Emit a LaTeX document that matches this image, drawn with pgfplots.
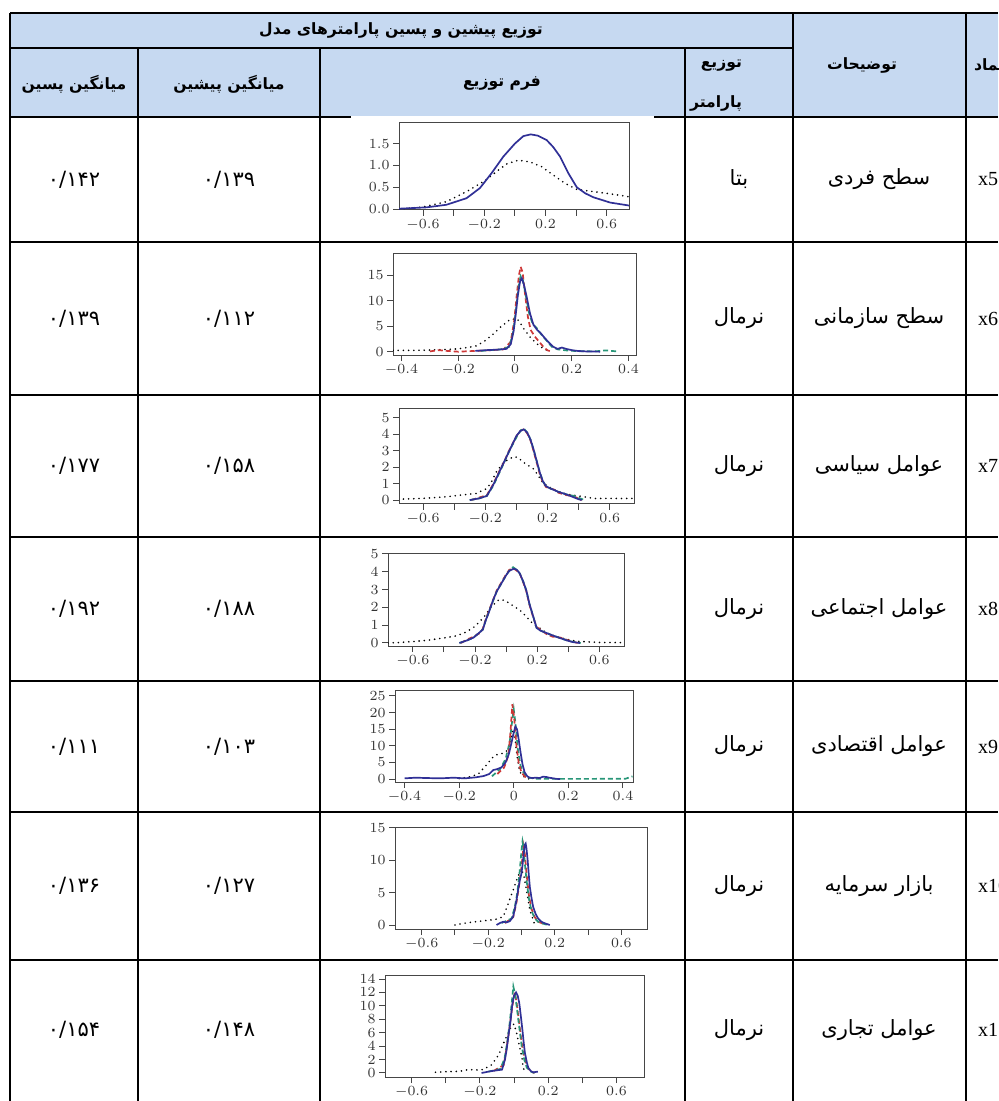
\documentclass[border=0pt]{standalone}
\usepackage{pgfplots}
\pgfplotsset{compat=1.18}
\usepackage{fontspec}
\setmainfont{Liberation Serif}
\TeXXeTstate=1
\newfontfamily\fa[Script=Arabic,BoldFont={DejaVu Sans Bold}]{DejaVu Sans}
\definecolor{hdr}{RGB}{198,217,241}
\definecolor{cblue}{RGB}{48,48,150}
\definecolor{cred}{RGB}{205,55,55}
\definecolor{cgreen}{RGB}{40,150,120}
\definecolor{frm}{RGB}{70,70,70}
\pgfplotsset{
  rplot/.style={scale only axis, anchor=north west,
    axis line style={frm, line width=0.5pt},
    tick align=outside, xtick pos=bottom, ytick pos=left,
    major tick length=3pt, tick style={frm, line width=0.5pt},
    ticklabel style={font=\fontsize{6.8}{7}\selectfont, text=black!80, inner sep=1.5pt},
    clip=true},
  alt7/.style={xtick={-0.6,-0.4,-0.2,0,0.2,0.4,0.6},
    xticklabels={$-0.6$,{},$-0.2$,{},$0.2$,{},$0.6$}},
  pb/.style={cblue, line width=0.85pt, no marks},
  pr/.style={cred, line width=0.85pt, dash pattern=on 2.5pt off 1.5pt, no marks},
  pg/.style={cgreen, line width=0.85pt, dash pattern=on 2.5pt off 1.5pt, no marks},
  pd/.style={black, line width=0.9pt, dash pattern=on 0pt off 2.6pt, line cap=round, no marks},
}
\tikzset{bt/.style={font=\fa\fontsize{10.5}{12}\selectfont},
  ht/.style={font=\fa\bfseries\fontsize{7.8}{10}\selectfont},
  st/.style={font=\fontsize{10}{12}\selectfont, anchor=west}}
\begin{document}
\begin{tikzpicture}
\begin{scope}[x=0.5pt,y=-0.5pt]
\clip (0,0) rectangle (998,1101);
\useasboundingbox (0,0) rectangle (998,1101);
\fill[hdr] (10,13) rectangle (998,117);
\begin{scope}[line width=1pt]
\draw (10,13) -- (998,13);
\draw (10,48) -- (793,48);
\draw (10,117) -- (998,117);
\foreach \yy in {242,395,537,681,812,960} {\draw (10,\yy) -- (998,\yy);}
\draw (10,13) -- (10,1105);
\draw (138,48) -- (138,1105);
\draw (320,48) -- (320,1105);
\draw (685,48) -- (685,1105);
\draw (793,13) -- (793,1105);
\draw (966,13) -- (966,1105);
\end{scope}
\fill[white] (351,116.5) rectangle (654,121);
% header text
\node[ht] at (401,30) {\beginR توزیع پیشین و پسین پارامترهای مدل\endR};
\node[ht] at (74,84) {\beginR میانگین پسین\endR};
\node[ht] at (229,84) {\beginR میانگین پیشین\endR};
\node[ht] at (502,84) {\beginR فرم توزیع\endR};
\node[ht, anchor=east] at (749,66) {\beginR توزیع\endR};
\node[ht, anchor=east] at (749,103) {\beginR پارامتر\endR};
\node[ht] at (862,65) {\beginR توضیحات\endR};
\node[ht, anchor=west] at (967,65) {\beginR نماد\endR};
% rows
\node[bt] at (74,179.5) {۰/۱۴۲};
\node[bt] at (229,179.5) {۰/۱۳۹};
\node[bt] at (739,179.5) {\beginR بتا\endR};
\node[bt] at (879,179.5) {\beginR سطح فردی\endR};
\node[st] at (971,179.5) {x5};
\node[bt] at (74,318.5) {۰/۱۳۹};
\node[bt] at (229,318.5) {۰/۱۱۲};
\node[bt] at (739,318.5) {\beginR نرمال\endR};
\node[bt] at (879,318.5) {\beginR سطح سازمانی\endR};
\node[st] at (971,318.5) {x6};
\node[bt] at (74,466) {۰/۱۷۷};
\node[bt] at (229,466) {۰/۱۵۸};
\node[bt] at (739,466) {\beginR نرمال\endR};
\node[bt] at (879,466) {\beginR عوامل سیاسی\endR};
\node[st] at (971,466) {x7};
\node[bt] at (74,609) {۰/۱۹۲};
\node[bt] at (229,609) {۰/۱۸۸};
\node[bt] at (739,609) {\beginR نرمال\endR};
\node[bt] at (879,609) {\beginR عوامل اجتماعی\endR};
\node[st] at (971,609) {x8};
\node[bt] at (74,746.5) {۰/۱۱۱};
\node[bt] at (229,746.5) {۰/۱۰۳};
\node[bt] at (739,746.5) {\beginR نرمال\endR};
\node[bt] at (879,746.5) {\beginR عوامل اقتصادی\endR};
\node[st] at (971,746.5) {x9};
\node[bt] at (74,886) {۰/۱۳۶};
\node[bt] at (229,886) {۰/۱۲۷};
\node[bt] at (739,886) {\beginR نرمال\endR};
\node[bt] at (879,886) {\beginR بازار سرمایه\endR};
\node[st] at (971,886) {x10};
\node[bt] at (74,1030) {۰/۱۵۴};
\node[bt] at (229,1030) {۰/۱۴۸};
\node[bt] at (739,1030) {\beginR نرمال\endR};
\node[bt] at (879,1030) {\beginR عوامل تجاری\endR};
\node[st] at (971,1030) {x11};
\coordinate (a5) at (399,123);
\coordinate (a6) at (393,253);
\coordinate (a7) at (399,408);
\coordinate (a8) at (388,553);
\coordinate (a9) at (395,690);
\coordinate (a10) at (395,827);
\coordinate (a11) at (385,975);
\end{scope}
% ---------- x5
\begin{axis}[rplot, at={(a5)}, width=115pt, height=43.5pt,
  xmin=-0.757, xmax=0.745, ymin=-0.02, ymax=1.97, alt7,
  ytick={0,0.5,1,1.5},
  yticklabel style={/pgf/number format/.cd,fixed,fixed zerofill,precision=1}]
\addplot[pd] coordinates {(-0.757,0) (-0.6,0.05) (-0.447,0.17) (-0.316,0.40) (-0.196,0.65) (-0.12,0.86) (-0.055,1.03) (0.022,1.12) (0.098,1.08) (0.175,0.97) (0.25,0.78) (0.327,0.59) (0.404,0.45) (0.513,0.40) (0.622,0.35) (0.749,0.28)};
\addplot[pb] coordinates {(-0.757,0.01) (-0.578,0.04) (-0.447,0.10) (-0.316,0.25) (-0.229,0.48) (-0.153,0.82) (-0.076,1.2) (0.0,1.5) (0.055,1.67) (0.103,1.71) (0.15,1.68) (0.207,1.58) (0.25,1.42) (0.295,1.20) (0.349,0.82) (0.404,0.50) (0.46,0.36) (0.513,0.27) (0.622,0.15) (0.749,0.08)};
\end{axis}
% ---------- x6
\begin{axis}[rplot, at={(a6)}, width=122pt, height=51pt,
  xmin=-0.43, xmax=0.43, ymin=-0.6, ymax=19.3,
  xtick={-0.4,-0.2,0,0.2,0.4}, ytick={0,5,10,15}]
\addplot[pd] coordinates {(-0.43,0.3) (-0.35,0.3) (-0.28,0.4) (-0.2,0.6) (-0.14,1.1) (-0.11,2.0) (-0.08,3.3) (-0.05,4.9) (-0.02,6.2) (0.005,6.5) (0.015,6.0) (0.03,4.6) (0.053,2.9) (0.077,1.6) (0.1,0.65) (0.12,0.1)};
\addplot[pr] coordinates {(-0.3,0.1) (-0.27,0.35) (-0.24,0.2) (-0.2,0.05) (-0.16,0.15) (-0.1,0.3) (-0.04,0.5) (-0.015,2) (-0.003,6) (0.006,11) (0.014,15) (0.02,16.6) (0.027,15.5) (0.035,11.5) (0.045,7) (0.055,4.3) (0.07,3) (0.085,2) (0.1,1.0) (0.115,0.3) (0.13,0.05)};
\addplot[pg] coordinates {(-0.12,0.2) (-0.05,0.5) (-0.02,1) (-0.006,4) (0.004,8.5) (0.012,12.5) (0.02,14.8) (0.028,14) (0.038,11) (0.05,7.5) (0.062,5.5) (0.076,4.7) (0.09,3.6) (0.11,2.3) (0.13,1.0) (0.15,0.5) (0.18,0.3) (0.22,0.15) (0.28,0.1) (0.32,0.3) (0.36,0.1)};
\addplot[pb] coordinates {(-0.14,0.2) (-0.1,0.35) (-0.06,0.45) (-0.03,0.6) (-0.015,1.5) (-0.005,4) (0.003,7.5) (0.01,11) (0.018,13.8) (0.024,14.4) (0.032,13) (0.041,10.8) (0.053,7.5) (0.065,5.3) (0.078,4.3) (0.09,3.7) (0.105,2.7) (0.12,1.8) (0.135,1.0) (0.15,0.6) (0.165,0.85) (0.18,0.6) (0.2,0.35) (0.22,0.2) (0.25,0.1) (0.3,0.05)};
\end{axis}
% ---------- x7
\begin{axis}[rplot, at={(a7)}, width=118pt, height=48pt,
  xmin=-0.755, xmax=0.763, ymin=-0.24, ymax=5.6, alt7, ytick={0,1,2,3,4,5}]
\addplot[pd] coordinates {(-0.76,0.05) (-0.6,0.1) (-0.45,0.2) (-0.36,0.3) (-0.26,0.4) (-0.19,0.7) (-0.16,1.1) (-0.13,1.7) (-0.09,2.2) (-0.05,2.5) (-0.01,2.65) (0.02,2.5) (0.06,2.2) (0.11,1.9) (0.14,1.5) (0.17,1.05) (0.21,0.8) (0.26,0.55) (0.33,0.35) (0.4,0.25) (0.5,0.1) (0.76,0.1)};
\addplot[pr] coordinates {(-0.29,0) (-0.24,0.15) (-0.19,0.3) (-0.15,0.95) (-0.11,1.75) (-0.08,2.3) (-0.05,2.95) (-0.02,3.5) (0.005,3.95) (0.03,4.25) (0.05,4.3) (0.07,4.05) (0.09,3.65) (0.11,3.0) (0.13,2.3) (0.15,1.6) (0.17,1.1) (0.19,0.8) (0.215,0.7) (0.24,0.65) (0.27,0.45) (0.32,0.3) (0.36,0.25) (0.4,0.1) (0.42,0)};
\addplot[pg] coordinates {(-0.3,0) (-0.24,0.1) (-0.19,0.25) (-0.15,0.85) (-0.11,1.65) (-0.08,2.25) (-0.05,2.9) (-0.02,3.45) (0.005,3.9) (0.03,4.25) (0.048,4.35) (0.07,4.1) (0.09,3.7) (0.11,3.1) (0.13,2.4) (0.15,1.7) (0.17,1.15) (0.19,0.85) (0.215,0.72) (0.24,0.62) (0.27,0.5) (0.32,0.35) (0.37,0.25) (0.41,0.1) (0.44,0)};
\addplot[pb] coordinates {(-0.3,0) (-0.24,0.1) (-0.19,0.25) (-0.15,0.9) (-0.11,1.7) (-0.085,2.2) (-0.05,2.9) (-0.03,3.3) (0.0,3.9) (0.025,4.2) (0.048,4.3) (0.07,4.1) (0.09,3.7) (0.11,3.1) (0.13,2.4) (0.15,1.7) (0.17,1.15) (0.19,0.85) (0.215,0.72) (0.24,0.62) (0.27,0.5) (0.32,0.35) (0.36,0.2) (0.4,0.05) (0.42,0)};
\end{axis}
% ---------- x8
\begin{axis}[rplot, at={(a8)}, width=118.5pt, height=46.5pt,
  xmin=-0.76, xmax=0.765, ymin=-0.17, ymax=5.05, alt7, ytick={0,1,2,3,4,5}]
\addplot[pd] coordinates {(-0.76,0) (-0.7,0.02) (-0.6,0.08) (-0.51,0.15) (-0.4,0.28) (-0.32,0.4) (-0.26,0.6) (-0.2,0.93) (-0.14,1.48) (-0.095,2.04) (-0.05,2.4) (-0.03,2.44) (0.0,2.35) (0.024,2.2) (0.088,1.85) (0.13,1.48) (0.17,1.1) (0.217,0.83) (0.26,0.56) (0.35,0.28) (0.45,0.1) (0.6,0.03) (0.765,0.02)};
\addplot[pr] coordinates {(-0.29,0) (-0.25,0.2) (-0.21,0.35) (-0.17,0.55) (-0.15,0.8) (-0.13,1.35) (-0.1,2.05) (-0.06,2.95) (-0.03,3.4) (0.0,3.85) (0.02,4.1) (0.045,4.2) (0.07,4.05) (0.09,3.85) (0.11,3.4) (0.13,2.9) (0.15,2.15) (0.174,1.45) (0.196,0.9) (0.22,0.75) (0.26,0.5) (0.3,0.35) (0.35,0.3) (0.4,0.15) (0.46,0)};
\addplot[pg] coordinates {(-0.3,0) (-0.25,0.15) (-0.21,0.3) (-0.17,0.6) (-0.15,0.75) (-0.13,1.3) (-0.1,2.0) (-0.06,2.9) (-0.03,3.35) (0.0,3.8) (0.02,4.05) (0.045,4.25) (0.07,4.1) (0.088,3.9) (0.11,3.45) (0.13,2.95) (0.15,2.2) (0.174,1.5) (0.196,0.85) (0.22,0.7) (0.26,0.56) (0.3,0.42) (0.346,0.28) (0.4,0.12) (0.44,0.05) (0.48,0)};
\addplot[pb] coordinates {(-0.3,0) (-0.25,0.15) (-0.21,0.3) (-0.17,0.6) (-0.15,0.75) (-0.13,1.3) (-0.116,1.6) (-0.1,2.0) (-0.084,2.4) (-0.06,2.9) (-0.03,3.35) (0.0,3.8) (0.02,4.05) (0.05,4.17) (0.07,4.1) (0.088,3.9) (0.11,3.45) (0.13,2.95) (0.15,2.2) (0.174,1.5) (0.196,0.85) (0.22,0.7) (0.26,0.56) (0.3,0.42) (0.346,0.28) (0.4,0.12) (0.43,0.05) (0.475,0)};
\end{axis}
% ---------- x9
\begin{axis}[rplot, at={(a9)}, width=119pt, height=46pt,
  xmin=-0.435, xmax=0.437, ymin=-0.9, ymax=26.8,
  xtick={-0.4,-0.2,0,0.2,0.4}, ytick={0,5,10,15,20,25}]
\addplot[pd] coordinates {(-0.2,0.1) (-0.16,0.7) (-0.13,1.5) (-0.1,4.2) (-0.08,6.3) (-0.063,7.3) (-0.045,7.6) (-0.025,8.5) (-0.012,11) (-0.005,14) (0.0,15) (0.005,12) (0.012,7) (0.022,2.2) (0.035,0.8) (0.046,0.2) (0.06,0)};
\addplot[pg] coordinates {(-0.08,0.8) (-0.05,3) (-0.03,6) (-0.015,11) (-0.005,18) (0.0,21) (0.006,17) (0.015,9) (0.025,4) (0.035,2) (0.05,0.5) (0.08,0.1) (0.12,0.05) (0.2,0.05) (0.3,0.05) (0.41,0.1) (0.435,0.8)};
\addplot[pr] coordinates {(-0.06,1.5) (-0.035,3.5) (-0.02,7) (-0.012,14) (-0.005,22.5) (0.002,18) (0.01,10) (0.018,5) (0.028,2) (0.04,0.8) (0.05,0.2)};
\addplot[pb] coordinates {(-0.4,0.2) (-0.36,0.4) (-0.32,0.3) (-0.27,0.2) (-0.22,0.4) (-0.18,0.2) (-0.14,0.5) (-0.11,0.9) (-0.09,1.5) (-0.075,2.7) (-0.06,3.0) (-0.045,3.5) (-0.03,5) (-0.018,7.5) (-0.008,11) (0.0,14) (0.006,15.8) (0.012,15) (0.018,12) (0.025,8) (0.032,4.5) (0.04,2) (0.05,0.8) (0.058,0.4) (0.07,0.3) (0.08,0.4) (0.095,0.3) (0.107,0.7) (0.12,0.6) (0.13,0.4) (0.145,0.2) (0.156,0.05) (0.17,0)};
\end{axis}
% ---------- x10
\begin{axis}[rplot, at={(a10)}, width=126pt, height=51pt,
  xmin=-0.76, xmax=0.754, ymin=-0.62, ymax=15.15, alt7, ytick={0,5,10,15}]
\addplot[pd] coordinates {(-0.4,0) (-0.36,0.2) (-0.31,0.4) (-0.26,0.55) (-0.21,0.7) (-0.15,0.9) (-0.11,1.3) (-0.08,3.3) (-0.05,5.4) (-0.03,6.9) (-0.01,8.2) (0.0,8.7) (0.015,7.5) (0.03,5.4) (0.05,2.3) (0.07,0.8) (0.08,0)};
\addplot[pr] coordinates {(-0.1,0.3) (-0.05,1.2) (-0.03,3.5) (-0.015,6) (0.0,9) (0.012,12.2) (0.02,11) (0.03,8) (0.045,4.5) (0.06,2.5) (0.08,1.2) (0.1,0.5) (0.14,0.1)};
\addplot[pg] coordinates {(-0.12,0.3) (-0.06,1.0) (-0.04,2.8) (-0.025,5) (-0.012,8) (0.0,11.5) (0.006,12.9) (0.012,12) (0.02,9.5) (0.03,7) (0.045,4) (0.06,2.2) (0.08,1.0) (0.1,0.5) (0.13,0.2) (0.16,0)};
\addplot[pb] coordinates {(-0.15,0) (-0.13,0.3) (-0.11,0.5) (-0.09,0.4) (-0.07,0.6) (-0.05,1.3) (-0.04,2.5) (-0.03,3.85) (-0.02,5.5) (-0.01,6.9) (0.0,8) (0.006,9.2) (0.013,11) (0.02,12.4) (0.025,12.6) (0.03,11.8) (0.037,10) (0.044,7.7) (0.05,5.9) (0.06,4.2) (0.07,2.8) (0.085,1.7) (0.1,1.0) (0.12,0.5) (0.14,0.26) (0.17,0)};
\end{axis}
% ---------- x11
\begin{axis}[rplot, at={(a11)}, width=129.5pt, height=51pt,
  xmin=-0.756, xmax=0.762, ymin=-0.6, ymax=14.6, alt7, ytick={0,2,4,6,8,10,12,14}]
\addplot[pd] coordinates {(-0.46,0.1) (-0.39,0.2) (-0.32,0.25) (-0.27,0.5) (-0.22,0.45) (-0.18,0.5) (-0.13,1.25) (-0.09,2.7) (-0.06,4.5) (-0.033,6) (-0.015,7) (0.0,7.3) (0.015,6) (0.03,4.2) (0.045,2.5) (0.055,0.75) (0.064,0.1)};
\addplot[pr] coordinates {(-0.12,0.3) (-0.06,1.2) (-0.045,3.5) (-0.03,6) (-0.015,9) (0.0,11.5) (0.005,12) (0.015,10.5) (0.03,7.5) (0.045,4.5) (0.06,2.3) (0.08,0.8) (0.1,0.2) (0.12,0)};
\addplot[pg] coordinates {(-0.15,0.2) (-0.08,0.6) (-0.055,2.2) (-0.04,4.5) (-0.025,7.5) (-0.013,10.5) (-0.004,12.9) (0.006,11.8) (0.018,9.5) (0.03,7) (0.045,4) (0.06,2) (0.075,0.8) (0.1,0.2) (0.12,0)};
\addplot[pb] coordinates {(-0.19,0) (-0.14,0.25) (-0.1,0.4) (-0.07,0.5) (-0.053,2) (-0.043,3.5) (-0.033,5.5) (-0.02,7.8) (-0.01,10.2) (0.0,11.5) (0.012,12.0) (0.022,11.5) (0.031,10.4) (0.04,8.5) (0.049,6.5) (0.057,4.5) (0.064,3) (0.075,1.6) (0.084,0.75) (0.1,0.25) (0.113,0.1) (0.14,0.2)};
\end{axis}
\end{tikzpicture}
\end{document}
